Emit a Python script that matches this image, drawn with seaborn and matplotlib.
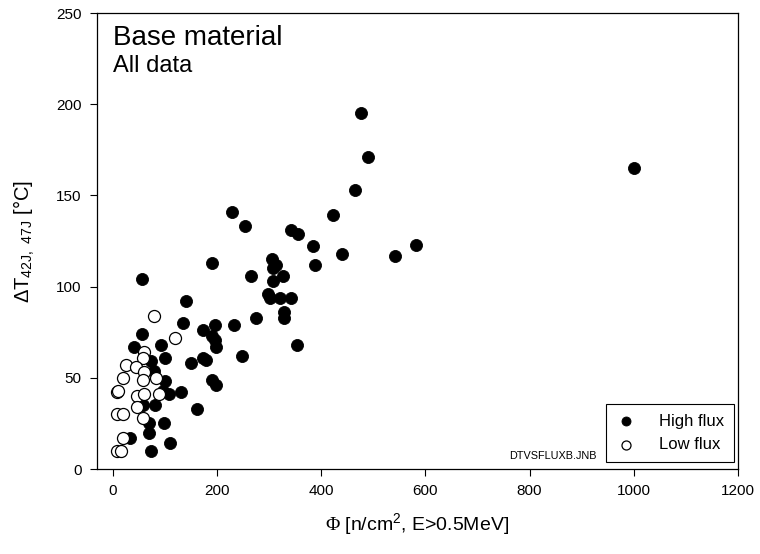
import matplotlib
matplotlib.use('Agg')
import matplotlib.pyplot as plt
import seaborn as sns
import pandas as pd

# --- data ------------------------------------------------------------------
high_x = [57, 229, 255, 343, 355, 385, 389, 423, 441, 466, 476, 490, 1000, 542, 583,
          190, 266, 305, 314, 308, 327, 308, 298, 302, 321, 343, 328, 328, 276, 354,
          141, 135, 232, 196, 173, 190, 196, 199, 56, 42, 92, 100, 74, 151, 173, 180,
          248, 190, 199, 161, 100, 97, 109, 131, 81, 58, 99, 70, 69, 34, 74, 111, 80]
high_y = [104, 141, 133, 131, 129, 122, 112, 139, 118, 153, 195, 171, 165, 117, 123,
          113, 106, 115, 112, 110, 106, 103, 96, 94, 94, 94, 86, 83, 83, 68,
          92, 80, 79, 79, 76, 73, 71, 67, 74, 67, 68, 61, 59, 58, 61, 60,
          62, 49, 46, 33, 48, 43, 41, 42, 35, 35, 25, 25, 20, 17, 10, 14, 54]

low_x = [79, 119, 61, 58, 26, 44, 61, 58, 83, 19, 8, 10, 46, 60, 89, 46, 8, 20, 58, 20, 8, 17]
low_y = [84, 72, 64, 61, 57, 56, 53, 49, 50, 50, 42, 43, 40, 41, 41, 34, 30, 30, 28, 17, 10, 10]

df = pd.concat([
    pd.DataFrame({'phi': high_x, 'dT': high_y, 'group': 'High flux'}),
    pd.DataFrame({'phi': low_x, 'dT': low_y, 'group': 'Low flux'}),
], ignore_index=True)

# --- style -----------------------------------------------------------------
sns.set_style('ticks', rc={'text.color': 'black', 'axes.labelcolor': 'black',
                           'xtick.color': 'black', 'ytick.color': 'black',
                           'axes.edgecolor': 'black'})
plt.rcParams['font.family'] = ['Liberation Sans', 'DejaVu Sans']
plt.rcParams['mathtext.fontset'] = 'custom'
plt.rcParams['mathtext.default'] = 'regular'
plt.rcParams['mathtext.rm'] = 'Liberation Sans'
plt.rcParams['mathtext.cal'] = 'Liberation Serif'

fig = plt.figure(figsize=(7.6, 5.54), dpi=100)
ax = fig.add_axes([0.1276, 0.1534, 0.8434, 0.8231])

hi = df[df['group'] == 'High flux']
lo = df[df['group'] == 'Low flux']
sns.scatterplot(data=hi, x='phi', y='dT', ax=ax, s=75, color='black',
                edgecolor='black', linewidth=0.6, label='High flux', zorder=3)
sns.scatterplot(data=lo, x='phi', y='dT', ax=ax, s=75, facecolor='white',
                edgecolor='black', linewidth=0.9, label='Low flux', zorder=4)

ax.set_xlim(-30, 1200)
ax.set_ylim(0, 250)
ax.set_xticks([0, 200, 400, 600, 800, 1000, 1200])
ax.set_yticks([0, 50, 100, 150, 200, 250])
ax.tick_params(direction='out', length=5, width=0.8, labelsize=11, pad=6)
for sp in ax.spines.values():
    sp.set_visible(True)
    sp.set_linewidth(0.9)

ax.set_xlabel(r'$\mathcal{\Phi}$ [n/cm$^2$, E>0.5MeV]', fontsize=14, labelpad=9)
ax.set_ylabel(r'ΔT$_{\mathrm{42J,\ 47J}}$ [°C]', fontsize=14.5, labelpad=14)

ax.text(0.025, 0.930, 'Base material', transform=ax.transAxes, fontsize=20,
        va='baseline', ha='left')
ax.text(0.025, 0.871, 'All data', transform=ax.transAxes, fontsize=17,
        va='baseline', ha='left')
ax.text(0.711, 0.028, 'DTVSFLUXB.JNB', transform=ax.transAxes, fontsize=7.8,
        ha='center', va='center')

leg = ax.legend(loc='lower right', frameon=True, fancybox=False, fontsize=12,
                markerscale=0.75, handlelength=1.2, handletextpad=1.4,
                borderpad=0.6, labelspacing=0.5,
                bbox_to_anchor=(0.994, 0.015), borderaxespad=0.0)
leg.get_frame().set_edgecolor('black')
leg.get_frame().set_linewidth(0.8)
leg.get_frame().set_alpha(1)

plt.savefig('out.png', dpi=100)
plt.close()
